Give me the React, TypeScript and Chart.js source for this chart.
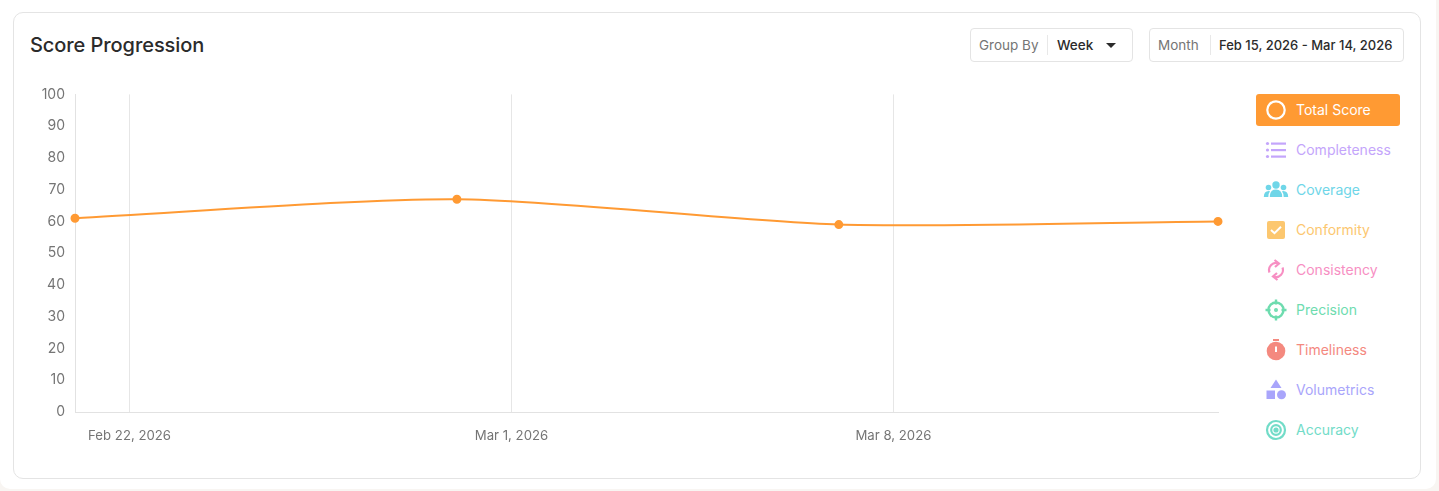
import React, { useEffect, useRef } from "react";
import { Chart, registerables } from "chart.js";

Chart.register(...registerables);

const dayOffsets = [0, 7, 14, 20.95];
const totalScore = [61, 67, 59, 60];
const tickDays = [1, 8, 15];
const tickLabels = ["Feb 22, 2026", "Mar 1, 2026", "Mar 8, 2026"];
const legendNames = ["Total Score", "Completeness", "Coverage", "Conformity", "Consistency", "Precision", "Timeliness", "Volumetrics", "Accuracy"];
const legendColors = ["#ffffff", "#c4a5fb", "#6fd6e8", "#fcc76f", "#f78fc3", "#6edcaf", "#f4897f", "#a9a5fb", "#72dcc8"];

const FONT = "Inter, 'Noto Sans', sans-serif";

function Icon({ i, c }: { i: number; c: string }) {
  const s: any = { position: "absolute", left: 9, top: 5, width: 22, height: 22, overflow: "visible" };
  const box = "0 0 22 22";
  const body: Record<number, any> = {
    0: <circle cx="11" cy="11" r="8.7" fill="none" stroke={c} strokeWidth="2.2" />,
    1: (
      <g fill={c}>
        <circle cx="2.500" cy="4.500" r="1.600" /><circle cx="2.500" cy="11" r="1.600" /><circle cx="2.500" cy="17.500" r="1.600" />
        <rect x="6" y="3.500" width="15" height="2.200" /><rect x="6" y="10" width="15" height="2.200" /><rect x="6" y="16.500" width="15" height="2.200" />
      </g>
    ),
    2: (
      <g fill={c}>
        <circle cx="11" cy="6" r="3.700" /><circle cx="3.500" cy="8.500" r="2.800" /><circle cx="18.500" cy="8.500" r="2.800" />
        <path d="M4.800 18 q0 -7.500 6.200 -7.500 q6.200 0 6.200 7.500z" /><path d="M-1.200 18 q0 -6 5 -6 l1.200 .3 q-1.700 2.300 -1.700 5.700z" /><path d="M23.200 18 q0 -6 -5 -6 l-1.200 .3 q1.700 2.300 1.700 5.700z" />
      </g>
    ),
    3: (
      <g>
        <rect x="2" y="2" width="18" height="18" rx="2" fill={c} />
        <path d="M6 11 l3.500 3.200 l6.500 -6.500" fill="none" stroke="#fff" strokeWidth="2" />
      </g>
    ),
    4: (
      <g fill="none" stroke={c} strokeWidth="2.200">
        <path d="M4.500 13.500 A7 7 0 0 1 13 4.300" /><path d="M17.500 8.500 A7 7 0 0 1 9 17.700" />
        <path d="M9.500 1 L14 4.500 L10 8" /><path d="M12.500 21 L8 17.500 L12 14" />
      </g>
    ),
    5: (
      <g fill="none" stroke={c} strokeWidth="2.400">
        <circle cx="11" cy="11" r="7.500" />
        <path d="M11 .5 v5 M11 16.500 v5 M.5 11 h5 M16.500 11 h5" />
        <circle cx="11" cy="11" r=".8" fill={c} />
      </g>
    ),
    6: (
      <g fill={c}>
        <rect x="8" y="0" width="6" height="2" />
        <circle cx="11" cy="12" r="9.300" />
        <rect x="10" y="7.500" width="2" height="5.500" fill="#fff" />
      </g>
    ),
    7: (
      <g fill={c}>
        <path d="M11 0.500 L16.500 9 L5.500 9z" />
        <rect x="1.500" y="11.500" width="8.500" height="8.500" />
        <circle cx="16.500" cy="15.800" r="4.500" />
      </g>
    ),
    8: (
      <g fill="none" stroke={c} strokeWidth="2.200">
        <circle cx="11" cy="11" r="9" />
        <circle cx="11" cy="11" r="4.800" />
        <circle cx="11" cy="11" r="1.500" fill={c} />
      </g>
    ),
  };
  return <svg style={s} viewBox={box}>{body[i]}</svg>;
}

export default function App() {
  const ref = useRef<HTMLCanvasElement | null>(null);
  useEffect(() => {
    document.body.style.margin = "0";
    document.body.style.background = "#f8f5f2";
    const chart = new Chart(ref.current as HTMLCanvasElement, {
      type: "line",
      data: {
        datasets: [
          {
            label: legendNames[0],
            data: dayOffsets.map((d, i) => ({ x: d, y: totalScore[i] })),
            borderColor: "#ff9a33",
            backgroundColor: "#ff9a33",
            borderWidth: 2,
            pointRadius: 3.5,
            pointHoverRadius: 4,
            tension: 0.25,
            clip: false,
          } as any,
        ],
      },
      options: {
        animation: false,
        responsive: false,
        maintainAspectRatio: false,
        layout: { padding: 0 },
        plugins: { legend: { display: false }, title: { display: false }, tooltip: { enabled: false } },
        scales: {
          x: {
            type: "linear",
            min: dayOffsets[0],
            max: dayOffsets[3],
            afterBuildTicks: (axis: any) => {
              axis.ticks = tickDays.map((v) => ({ value: v }));
            },
            afterFit: (axis: any) => {
              axis.height = 50;
            },
            grid: { color: "#e6e6e6", lineWidth: 1, drawTicks: false },
            border: { color: "#e2e2e2" },
            ticks: {
              autoSkip: false,
              maxRotation: 0,
              padding: 16,
              color: "#757575",
              font: { family: FONT, size: 13.2 },
              callback: (v: any) => tickLabels[tickDays.indexOf(Number(v))] ?? "",
            },
          },
          y: {
            min: 0,
            max: 100,
            afterFit: (axis: any) => {
              axis.width = 75;
            },
            grid: { display: false, drawTicks: false },
            border: { color: "#e2e2e2" },
            ticks: { stepSize: 10, padding: 10, color: "#757575", font: { family: FONT, size: 14 } },
          },
        },
      } as any,
    });
    return () => chart.destroy();
  }, []);

  return (
    <div style={{ position: "absolute", left: 0, top: 0, width: 1439, height: 491, overflow: "hidden", fontFamily: FONT }}>
      <div style={{ position: "absolute", left: 0, top: -10, width: 1436, height: 499, background: "#fff", borderRadius: 10 }} />
      <div style={{ position: "absolute", left: 13, top: 12, width: 1406, height: 465, border: "1px solid #e4e4e4", borderRadius: 10, background: "#fff" }} />
      <div style={{ position: "absolute", left: 30, top: 33, fontSize: 20, lineHeight: "24px", fontWeight: 500, color: "#2b2b2b", letterSpacing: -0.07 }}>Score Progression</div>

      <div style={{ position: "absolute", left: 970, top: 28, width: 161, height: 32, border: "1px solid #e4e4e4", borderRadius: 4, fontSize: 13.5, lineHeight: "32px" }}>
        <span style={{ position: "absolute", left: 8, color: "#757575" }}>Group By</span>
        <span style={{ position: "absolute", left: 76, top: 6, height: 20, width: 1, background: "#e8e8e8" }} />
        <span style={{ position: "absolute", left: 86, color: "#2b2b2b", fontWeight: 500 }}>Week</span>
        <span style={{ position: "absolute", left: 135, top: 14, borderLeft: "5.5px solid transparent", borderRight: "5.5px solid transparent", borderTop: "5px solid #2b2b2b" }} />
      </div>
      <div style={{ position: "absolute", left: 1149, top: 28, width: 253, height: 32, border: "1px solid #e4e4e4", borderRadius: 4, fontSize: 13.5, lineHeight: "32px" }}>
        <span style={{ position: "absolute", left: 8, color: "#757575" }}>Month</span>
        <span style={{ position: "absolute", left: 60, top: 6, height: 20, width: 1, background: "#e8e8e8" }} />
        <span style={{ position: "absolute", left: 69, color: "#2b2b2b", fontWeight: 500, whiteSpace: "nowrap", fontSize: 13 }}>Feb 15, 2026 - Mar 14, 2026</span>
      </div>

      <canvas ref={ref} width={1224} height={386} style={{ position: "absolute", left: 0, top: 76, width: 1224, height: 386 }} />

      {legendNames.map((n, i) => (
        <div
          key={n}
          style={{
            position: "absolute",
            left: 1256,
            top: 94 + i * 40,
            width: 144,
            height: 32,
            borderRadius: 3,
            background: i === 0 ? "#ff9a33" : "transparent",
            color: legendColors[i],
            fontSize: 14,
            fontWeight: 400,
            lineHeight: "32px",
          }}
        >
          <Icon i={i} c={legendColors[i]} />
          <span style={{ position: "absolute", left: 40, whiteSpace: "nowrap" }}>{n}</span>
        </div>
      ))}
    </div>
  );
}
